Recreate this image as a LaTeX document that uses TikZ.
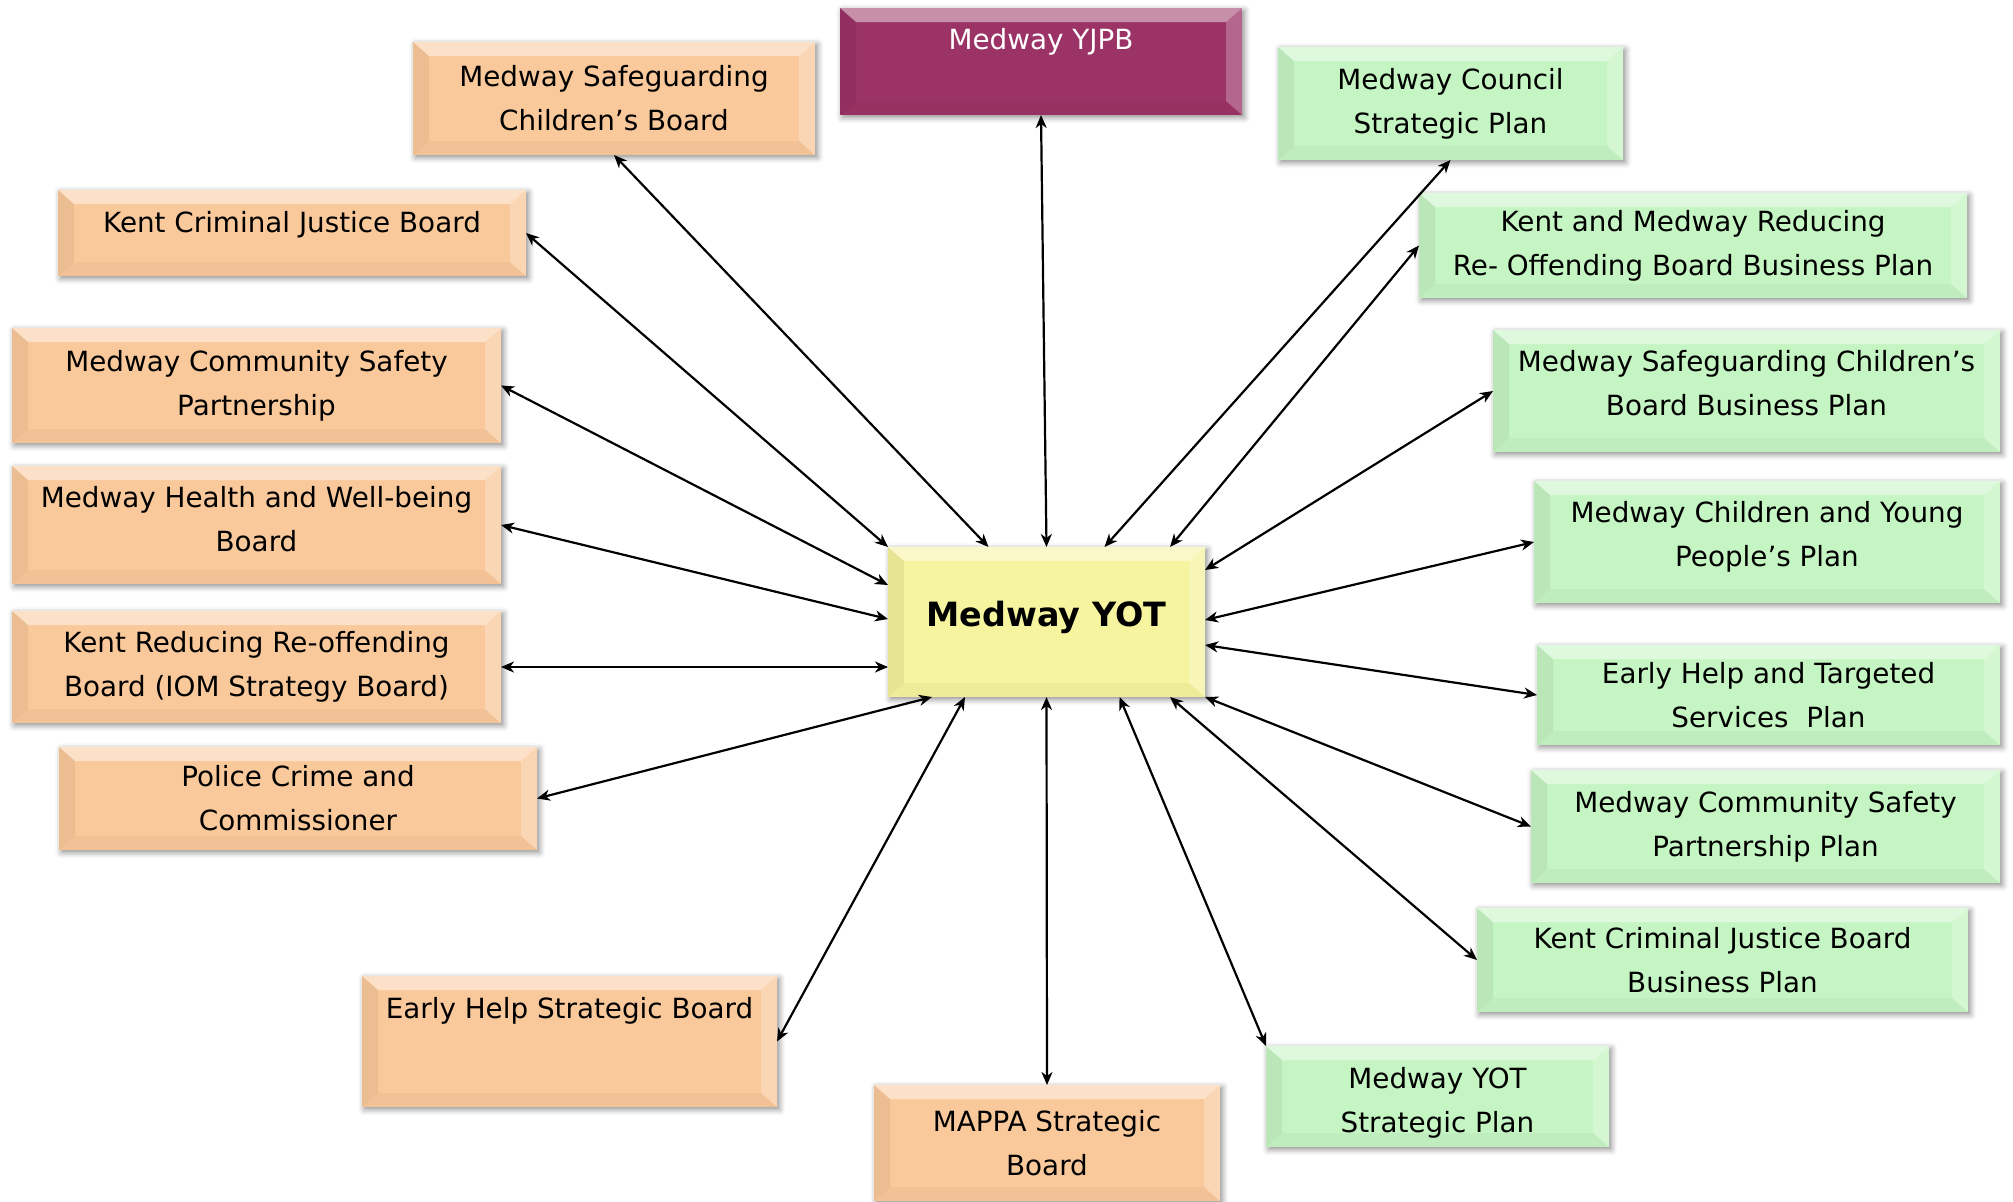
\documentclass[tikz,border=0pt]{standalone}
\usepackage{fontspec}
\setmainfont{DejaVu Sans}
\usetikzlibrary{arrows.meta,shadows.blur,fit,calc}
\definecolor{orangeF}{RGB}{250,201,155}
\definecolor{greenF}{RGB}{198,245,196}
\definecolor{purpleF}{RGB}{155,51,102}
\definecolor{yellowF}{RGB}{246,244,158}
\tikzset{
  bevelbox/.style={rectangle, inner sep=0pt, outer sep=0pt, fill=#1,
    blur shadow={shadow xshift=1.2pt, shadow yshift=-1.2pt, shadow blur radius=3pt, shadow opacity=45},
    path picture={
      \path (path picture bounding box.north west) coordinate (pnw)
            (path picture bounding box.north east) coordinate (pne)
            (path picture bounding box.south west) coordinate (psw)
            (path picture bounding box.south east) coordinate (pse);
      \fill[white,opacity=.45] (pnw) -- (pne) -- ([shift={(-16,14)}]pne) -- ([shift={(16,14)}]pnw) -- cycle;
      \fill[black,opacity=.06] (pnw) -- ([shift={(16,14)}]pnw) -- ([shift={(16,-14)}]psw) -- (psw) -- cycle;
      \fill[white,opacity=.25] (pne) -- ([shift={(-16,14)}]pne) -- ([shift={(-16,-14)}]pse) -- (pse) -- cycle;
      \fill[black,opacity=.03] (psw) -- ([shift={(16,-14)}]psw) -- ([shift={(-16,-14)}]pse) -- (pse) -- cycle;
    }},
  obox/.style={bevelbox=orangeF},
  gbox/.style={bevelbox=greenF},
  pbox/.style={bevelbox=purpleF},
  ybox/.style={bevelbox=yellowF},
  txt/.style={font=\fontsize{13.9}{22}\selectfont, align=center, inner sep=0pt},
  conn/.style={draw=black, line width=1.1pt, {Stealth[length=6.5pt,width=5.5pt,inset=2pt]}-{Stealth[length=6.5pt,width=5.5pt,inset=2pt]}}
}
% #1 style, #2 name, #3 corner, #4 corner, #5 vertical text offset, #6 text
\newcommand\bevbox[6]{%
  \node[#1, fit={(#3) (#4)}] (#2) {};
  \node[txt] (#2-t) at ($(#2.center)+(0,#5)$) {#6};
}
\begin{document}
\begin{tikzpicture}[x=0.5pt,y=-0.5pt]
\useasboundingbox (0,0) rectangle (2013,1201);

% centre
\node[ybox, fit={(888,547) (1205,697)}] (yot) {};
\node[txt, font=\fontsize{16.7}{20}\bfseries] (yot-t) at ($(yot.center)+(0,-5)$) {Medway YOT};

% left (orange)
\bevbox{obox}{mscb}{413,42}{815,155}{0}{Medway Safeguarding\\Children’s Board}
\bevbox{obox}{kcjb}{58,190}{526,276}{-8}{Kent Criminal Justice Board}
\bevbox{obox}{mcsp}{12,328}{501,443}{0}{Medway Community Safety\\Partnership}
\bevbox{obox}{mhwb}{12,466}{501,584}{-6}{Medway Health and Well-being\\Board}
\bevbox{obox}{krrb}{12,611}{501,723}{0}{Kent Reducing Re-offending\\Board (IOM Strategy Board)}
\bevbox{obox}{pcc}{59,747}{537,850}{0}{Police Crime and\\Commissioner}
\node[obox, fit={(362,976) (777,1107)}] (ehsb) {};
\node[txt, anchor=north] (ehsb-t) at ($(ehsb.north)+(0,21)$) {Early Help Strategic Board};
\bevbox{obox}{mappa}{874,1085}{1220,1201}{0}{MAPPA Strategic\\Board}

% top (purple)
\node[pbox, fit={(840,8) (1242,115)}] (yjpb) {};
\node[txt, anchor=north, text=white] (yjpb-t) at ($(yjpb.north)+(0,20)$) {Medway YJPB};

% right (green)
\bevbox{gbox}{council}{1278,47}{1623,160}{0}{Medway Council\\Strategic Plan}
\bevbox{gbox}{kmrr}{1419,193}{1967,298}{0}{Kent and Medway Reducing\\Re- Offending Board Business Plan}
\bevbox{gbox}{mscbbp}{1493,330}{2000,452}{-8}{Medway Safeguarding Children’s\\Board Business Plan}
\bevbox{gbox}{mcyp}{1534,481}{2000,603}{-5}{Medway Children and Young\\People’s Plan}
\bevbox{gbox}{ehts}{1537,645}{2000,745}{0}{Early Help and Targeted\\Services\ \ Plan}
\bevbox{gbox}{mcspp}{1531,770}{2000,883}{0}{Medway Community Safety\\Partnership Plan}
\bevbox{gbox}{kcjbbp}{1477,908}{1968,1012}{0}{Kent Criminal Justice Board\\Business Plan}
\bevbox{gbox}{yotsp}{1266,1046}{1609,1147}{6}{Medway YOT\\Strategic Plan}

% connectors
\draw[conn] (mscb.south) -- ($(yot.north)+(-58,0)$);
\draw[conn] (kcjb.east) -- (yot.north west);
\draw[conn] (mcsp.east) -- ($(yot.west)+(0,-37)$);
\draw[conn] (mhwb.east) -- ($(yot.west)+(0,-3)$);
\draw[conn] (krrb.east) -- ($(yot.west)+(0,45)$);
\draw[conn] (pcc.east) -- ($(yot.south west)+(44,0)$);
\draw[conn] (ehsb.east) -- ($(yot.south west)+(77,0)$);
\draw[conn] (mappa.north) -- (yot.south);
\draw[conn] (yjpb.south) -- (yot.north);
\draw[conn] (council.south) -- ($(yot.north)+(58,0)$);
\draw[conn] (kmrr.west) -- ($(yot.north east)+(-35,0)$);
\draw[conn] (mscbbp.west) -- ($(yot.east)+(0,-52)$);
\draw[conn] (mcyp.west) -- ($(yot.east)+(0,-2)$);
\draw[conn] (ehts.west) -- ($(yot.east)+(0,23)$);
\draw[conn] (mcspp.west) -- (yot.south east);
\draw[conn] (kcjbbp.west) -- ($(yot.south east)+(-35,0)$);
\draw[conn] (yotsp.north west) -- ($(yot.south)+(73,0)$);
\end{tikzpicture}
\end{document}
